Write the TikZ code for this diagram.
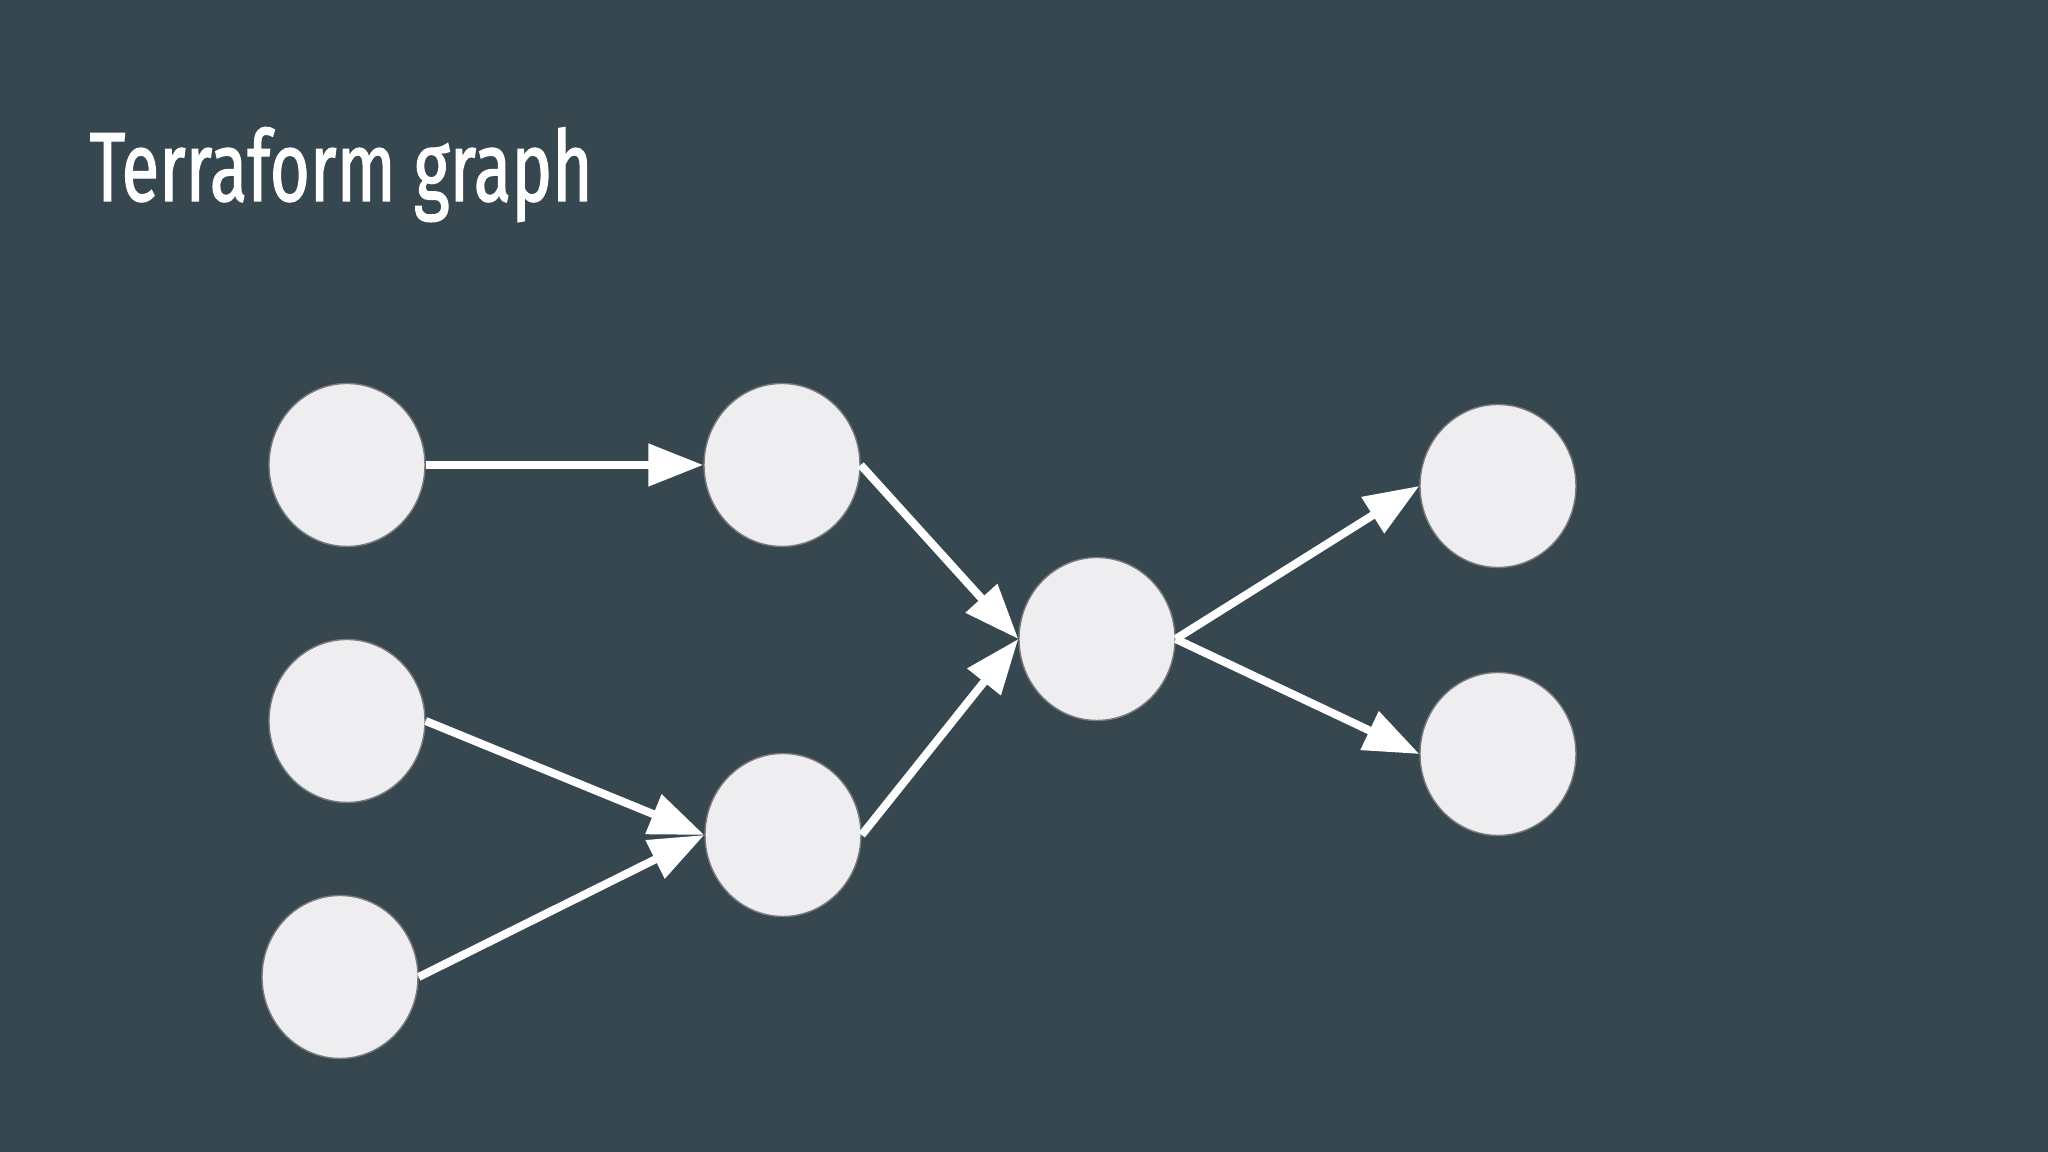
\documentclass[tikz,border=0pt]{standalone}
\usepackage{fontspec}
\usetikzlibrary{shapes.geometric,arrows.meta}
\newfontfamily\titlefont[FakeStretch=0.70,FakeBold=1.2]{Fira Sans}
\definecolor{bgcol}{HTML}{37474F}
\definecolor{nodefill}{HTML}{EEEDF0}
\definecolor{nodeline}{HTML}{7A7A7A}
\tikzset{
  gnode/.style={ellipse, minimum width=1.56cm, minimum height=1.63cm, inner sep=0pt,
    fill=nodefill, draw=nodeline, line width=0.4pt},
  garrow/.style={white, line width=0.08cm, -{Triangle[length=0.55cm, width=0.41cm]}}
}
\begin{document}
\begin{tikzpicture}
\fill[bgcol] (0,0) rectangle (20.48,11.52);
\useasboundingbox (0,0) rectangle (20.48,11.52);
\node[anchor=base west, inner sep=0pt, text=white, font=\titlefont\fontsize{28}{34}\selectfont] (title) at (0.89,9.51) {Terraform graph};
\node[gnode] (A) at (3.47,6.87) {};
\node[gnode] (B) at (7.82,6.87) {};
\node[gnode] (C) at (3.47,4.31) {};
\node[gnode] (D) at (3.40,1.75) {};
\node[gnode] (E) at (7.83,3.17) {};
\node[gnode] (F) at (10.97,5.13) {};
\node[gnode] (G) at (14.98,6.66) {};
\node[gnode] (H) at (14.98,3.98) {};
\draw[garrow] (A.east) -- (B.west);
\draw[garrow] (B.east) -- (F.west);
\draw[garrow] (C.east) -- (E.west);
\draw[garrow] (D.east) -- (E.west);
\draw[garrow] (E.east) -- (F.west);
\draw[garrow] (F.east) -- (G.west);
\draw[garrow] (F.east) -- (H.west);
\end{tikzpicture}
\end{document}
